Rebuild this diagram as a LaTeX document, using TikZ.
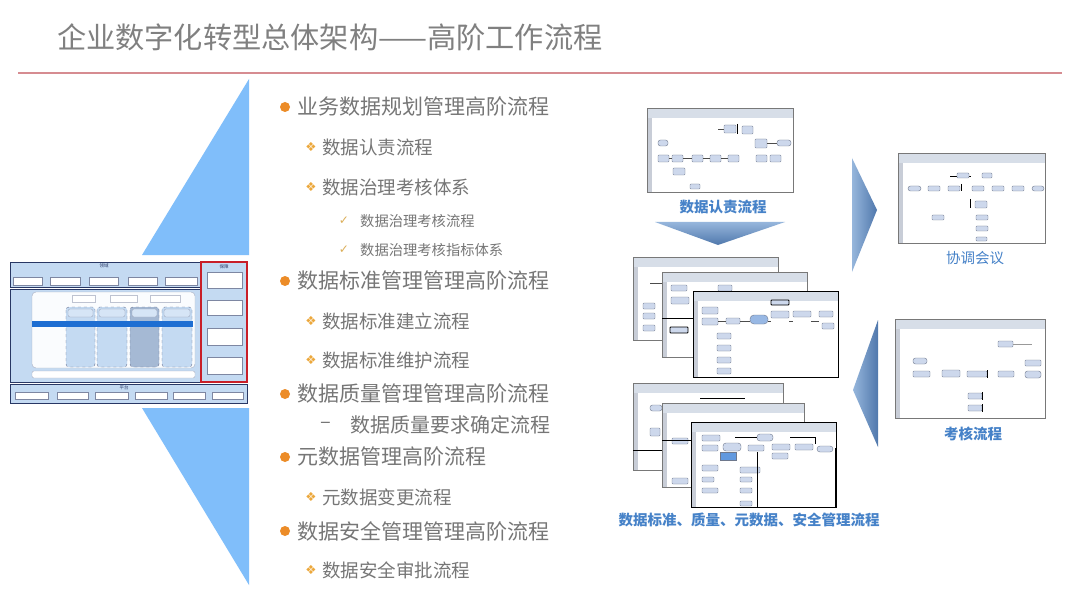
\documentclass[tikz,border=0pt]{standalone}
\usepackage{fontspec}
\setmainfont{Noto Sans CJK SC}
\newfontfamily\symf{DejaVu Sans}
\definecolor{titlegray}{RGB}{128,128,128}
\definecolor{txtgray}{RGB}{118,118,118}
\definecolor{redline}{RGB}{214,140,145}
\definecolor{triblue}{RGB}{128,190,250}
\definecolor{bulorange}{RGB}{236,140,40}
\definecolor{bulyellow}{RGB}{236,168,60}
\definecolor{chkyellow}{RGB}{220,175,90}
\definecolor{lblue}{RGB}{70,130,200}
\definecolor{arrowdark}{RGB}{80,120,172}
\definecolor{arrowlight}{RGB}{150,182,220}
\definecolor{lbfill}{RGB}{196,218,242}
\definecolor{lframe}{RGB}{40,55,100}
\definecolor{bandblue}{RGB}{30,110,210}
\definecolor{colgray}{RGB}{165,185,212}
\definecolor{redbox}{RGB}{200,30,40}
\definecolor{wbord}{RGB}{120,120,120}
\definecolor{whead}{RGB}{215,222,232}
\definecolor{wstrip}{RGB}{200,205,215}
\definecolor{boxblue}{RGB}{205,216,236}
\definecolor{boxedge}{RGB}{110,120,140}
\tikzset{
  lone/.style={anchor=west, inner sep=0pt, text=txtgray, font=\fontsize{21}{21}\selectfont},
  ltwo/.style={anchor=west, inner sep=0pt, text=txtgray, font=\fontsize{18.5}{19}\selectfont},
  lthree/.style={anchor=west, inner sep=0pt, text=txtgray, font=\fontsize{14.3}{15}\selectfont},
  dotbul/.style={circle, fill=bulorange, inner sep=0pt, minimum size=10pt},
  diabul/.style={inner sep=0pt, text=bulyellow, font=\symf\fontsize{12.5}{12.5}\selectfont},
  chkbul/.style={inner sep=0pt, text=chkyellow, font=\symf\fontsize{12}{12}\selectfont},
  caption/.style={inner sep=0pt, text=lblue, font=\bfseries\fontsize{14.5}{15}\selectfont},
  tinyt/.style={inner sep=0pt, text=lframe, font=\fontsize{4.5}{5}\selectfont},
  wbox/.style={fill=white, draw=lframe!60, line width=0.4pt},
  fb/.style={fill=boxblue, draw=boxedge, line width=0.4pt, rounded corners=0.8pt},
  fsel/.style={fill=bandblue!70, draw=boxedge, line width=0.4pt},
  cl/.style={draw=black!70, line width=0.4pt},
  lframeb/.style={draw=lframe, line width=0.8pt, fill=lbfill},
}
\newcommand\winshot[5]{%
  \filldraw[fill=white, draw=#5, line width=0.7pt] (#1,#2) rectangle (#3,#4);
  \fill[whead] (#1,#2) rectangle (#3,#2+10);
  \fill[wstrip] (#1,#2+10) rectangle (#1+5,#4);
  \draw[#5, line width=0.7pt] (#1,#2) rectangle (#3,#4);
}
\newcommand\bx[4]{\path[fb] (#1,#2) rectangle ++(#3,#4);}
\newcommand\ebx[4]{\path[fb, rounded corners=2.5pt] (#1,#2) rectangle ++(#3,#4);}
\begin{document}
\begin{tikzpicture}[x=1pt,y=-1pt]
\useasboundingbox (0,0) rectangle (1080,607);
\fill[white] (0,0) rectangle (1080,607);

% title and rule
\node[anchor=west, inner sep=0pt, text=titlegray, font=\fontsize{29.2}{30}\selectfont] (title) at (57,37) {企业数字化转型总体架构——高阶工作流程};
\draw[redline, line width=1.3pt] (18,73) -- (1062,73);

% blue triangles
\fill[triblue] (249,79) -- (249,255) -- (142,255) -- cycle;
\fill[triblue] (142,408) -- (249,408) -- (249,585) -- cycle;

% ---------- left architecture thumbnail ----------
\draw[lframeb] (10,262) rectangle (201,287);
\node[tinyt] (ly) at (104,266) {领域};
\foreach \a/\b in {13/42,50/80,89/118,128/157,165/197}
  \draw[wbox] (\a,277) rectangle (\b,285);
\draw[lframeb] (10,289) rectangle (201,382);
\draw[fill=white!92!lbfill, draw=lframe!40, line width=0.4pt, rounded corners=4pt] (32,292) rectangle (195,368);
\foreach \a/\b in {72/95,110/137,150/180}
  \draw[wbox, draw=lframe!30] (\a,295) rectangle (\b,302);
\foreach \a/\b/\c in {66/95/lbfill,97/127/lbfill,130/159/colgray,162/192/lbfill}{
  \draw[fill=\c, draw=lframe!70, dashed, line width=0.4pt, rounded corners=3pt] (\a,307) rectangle (\b,367);
  \draw[fill=lbfill!70!white, draw=lframe!50, line width=0.3pt, rounded corners=2pt] (\a+2,309) rectangle (\b-2,317);
}
\fill[bandblue] (32,321) rectangle (193,327);
\draw[fill=white, draw=lframe!40, line width=0.4pt, rounded corners=2pt] (32,371) rectangle (195,378);
\draw[lframeb] (10,384) rectangle (247,403);
\node[tinyt] (lp) at (124,388) {平台};
\foreach \a/\b in {15/48,57/88,95/128,135/167,173/205,212/243}
  \draw[wbox] (\a,392) rectangle (\b,399);
\draw[draw=redbox, line width=1.3pt, fill=lbfill] (201,262) rectangle (247,382);
\node[tinyt] (lb) at (224,267) {保障};
\foreach \a/\b in {272/288,300/315,328/345,357/374}
  \draw[wbox] (207,\a) rectangle (242,\b);

% ---------- bullet list ----------
\node[dotbul] (b1) at (285,107) {};
\node[lone] (t1) at (297,107) {业务数据规划管理高阶流程};
\node[diabul] (d1) at (311,147) {❖};
\node[ltwo] (t11) at (322,147) {数据认责流程};
\node[diabul] (d2) at (311,187) {❖};
\node[ltwo] (t12) at (322,187) {数据治理考核体系};
\node[chkbul] (c1) at (344,221) {✓};
\node[lthree] (t121) at (360,221) {数据治理考核流程};
\node[chkbul] (c2) at (344,250) {✓};
\node[lthree] (t122) at (360,250) {数据治理考核指标体系};
\node[dotbul] (b2) at (285,281) {};
\node[lone] (t2) at (297,281) {数据标准管理管理高阶流程};
\node[diabul] (d3) at (311,321) {❖};
\node[ltwo] (t21) at (322,321) {数据标准建立流程};
\node[diabul] (d4) at (311,360) {❖};
\node[ltwo] (t22) at (322,360) {数据标准维护流程};
\node[dotbul] (b3) at (285,394) {};
\node[lone] (t3) at (297,394) {数据质量管理管理高阶流程};
\node[anchor=west, inner sep=0pt, text=txtgray, font=\fontsize{20}{20}\selectfont] (dash) at (320,425) {–};
\node[ltwo, font=\fontsize{20}{20}\selectfont] (t31) at (350,425) {数据质量要求确定流程};
\node[dotbul] (b4) at (285,457) {};
\node[lone] (t4) at (297,457) {元数据管理高阶流程};
\node[diabul] (d5) at (311,497) {❖};
\node[ltwo] (t41) at (322,497) {元数据变更流程};
\node[dotbul] (b5) at (285,531) {};
\node[lone] (t5) at (297,531) {数据安全管理管理高阶流程};
\node[diabul] (d6) at (311,570) {❖};
\node[ltwo] (t51) at (322,570) {数据安全审批流程};

% ---------- screenshot 1: 数据认责流程 ----------
\winshot{647}{108}{793}{192}{wbord}
\draw[cl] (718,129) -- (724,129);
\bx{724}{125}{12}{8} \draw[black, line width=1pt] (737,124) -- (737,134);
\bx{742}{126}{11}{8}
\bx{755}{139}{12}{9} \draw[cl] (767,143) -- (777,143);
\ebx{777}{140}{14}{6}
\ebx{658}{140}{10}{6}
\foreach \a in {658,672,692,710,728,756,770}{\bx{\a}{155}{11}{7}}
\foreach \a/\b in {669/672,683/692,703/710,721/728}{\draw[cl] (\a,158.5) -- (\b,158.5);}
\bx{673}{168}{12}{7}
\bx{690}{184}{10}{5}

\node[caption] (cap1) at (723,207) {数据认责流程};

% down arrow
\shade[top color=arrowlight, bottom color=arrowdark] (655,222) -- (785,222) -- (718,245) -- cycle;

% ---------- screenshot 2: 协调会议 ----------
\winshot{898}{153}{1045}{243}{wbord}
\draw[black, line width=0.9pt] (950,176) -- (971,176);
\bx{957}{173}{12}{5}
\bx{982}{173}{10}{5}
\ebx{908}{186}{13}{5}
\foreach \a in {928,948,972,992,1012}{\bx{\a}{186}{12}{5}}
\ebx{1032}{186}{12}{5}
\draw[black, line width=0.9pt] (961,184) -- (961,191);
\bx{975}{201}{12}{7}
\draw[black, line width=0.9pt] (970,199) -- (970,208);
\bx{932}{215}{12}{5}
\bx{976}{215}{12}{5}
\bx{976}{226}{12}{5}
\bx{976}{237}{11}{4}
\node[caption, font=\fontsize{14.5}{15}\selectfont] (cap2) at (975,258) {协调会议};

% right-pointing chevron
\shade[left color=arrowlight, right color=arrowdark] (852,158) -- (877,210) -- (852,272) -- cycle;

% ---------- stack 1 ----------
\winshot{633}{257}{778}{340}{wbord}
\bx{643}{303}{12}{6}
\bx{643}{313}{12}{6}
\bx{643}{325}{12}{6}
\draw[cl] (650,283) -- (662,283);
\winshot{662}{272}{807}{357}{wbord}
\bx{671}{285}{16}{6}
\bx{671}{297}{18}{7}
\bx{718}{285}{14}{6}
\draw[fb, draw=black, line width=0.8pt] (670,327) rectangle ++(18,6);
\draw[black, line width=0.8pt] (662,318) -- (693,318);
\winshot{693}{291}{838}{377}{black}
\bx{702}{307}{16}{7}
\bx{702}{318}{16}{7}
\bx{726}{318}{14}{6}
\path[fb, fill=boxblue!70!bandblue, rounded corners=4pt] (750,315) rectangle ++(18,9);
\path[fb, draw=black, line width=0.8pt] (771,300) rectangle ++(18,5);
\bx{771}{311}{18}{7}
\bx{793}{311}{18}{6}
\bx{819}{311}{14}{6}
\bx{822}{323}{12}{6}
\foreach \a in {333,345,357,368}{\bx{717}{\a}{14}{6}}
\foreach \a/\b in {718/726,740/750,768/771,789/793,811/819}{\draw[cl] (\a,321) -- (\b,321);}

% ---------- stack 2 ----------
\winshot{633}{383}{783}{470}{wbord}
\ebx{650}{405}{12}{6}
\bx{650}{428}{10}{8}
\draw[black, line width=0.8pt] (700,398) -- (745,398);
\draw[black, line width=0.8pt] (633,450) -- (662,450);
\winshot{662}{403}{804}{487}{wbord}
\bx{672}{438}{16}{6}
\bx{672}{478}{16}{6}
\draw[black, line width=0.8pt] (662,440) -- (691,440);
\winshot{691}{422}{836}{507}{black}
\bx{702}{435}{18}{6}
\bx{702}{445}{16}{6}
\path[fb, rounded corners=3pt] (723,443) rectangle ++(18,8);
\path[fsel] (720,452) rectangle ++(16,8);
\bx{748}{445}{16}{6}
\path[fb, rounded corners=3pt] (757,434) rectangle ++(16,7);
\bx{772}{444}{18}{6}
\bx{772}{453}{16}{6}
\bx{795}{444}{18}{6}
\path[fb, rounded corners=3pt] (817,446) rectangle ++(16,6);
\bx{702}{465}{16}{6}
\bx{702}{477}{12}{5}
\bx{702}{488}{16}{5}
\bx{740}{467}{20}{6}
\bx{740}{477}{12}{5}
\bx{740}{488}{12}{5}
\bx{740}{501}{12}{5}
\draw[black, line width=0.9pt] (757,452) -- (757,507);
\draw[black, line width=0.9pt] (835,448) -- (835,507);
\draw[black, line width=0.6pt] (735,437) -- (757,437);
\draw[black, line width=0.6pt] (790,437) -- (815,437) -- (815,444);
\node[caption] (cap3) at (749,520) {数据标准、质量、元数据、安全管理流程};

% left-pointing chevron
\shade[left color=arrowlight, right color=arrowdark] (878,320) -- (853,390) -- (878,447) -- cycle;

% ---------- screenshot 3: 考核流程 ----------
\winshot{895}{319}{1045}{418}{wbord}
\bx{998}{341}{15}{6}
\draw[black!40, line width=0.5pt] (1013,344) -- (1032,344);
\ebx{913}{358}{14}{6}
\bx{1025}{360}{16}{6}
\bx{913}{371}{17}{6}
\bx{942}{370}{18}{7}
\bx{967}{371}{20}{6}
\bx{998}{371}{16}{6}
\ebx{1025}{371}{16}{7}
\draw[black, line width=0.8pt] (987,370) -- (987,378);
\bx{968}{393}{14}{6}
\bx{968}{405}{14}{6}
\draw[black, line width=0.8pt] (982,392) -- (982,400);
\draw[black, line width=0.8pt] (982,404) -- (982,412);
\node[caption] (cap4) at (973,434) {考核流程};
\end{tikzpicture}
\end{document}
